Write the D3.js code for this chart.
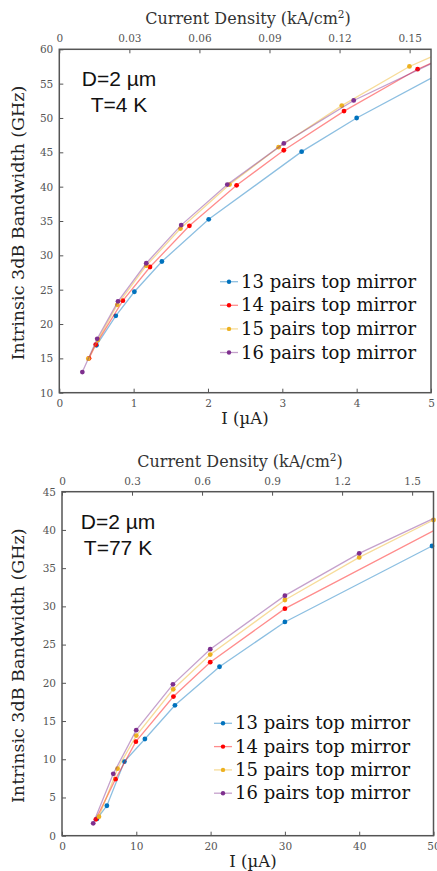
<!DOCTYPE html>
<html><head><meta charset="utf-8">
<script src="https://cdn.jsdelivr.net/npm/d3@7"></script>
<style>
html,body{margin:0;padding:0;background:#fff;}
svg{display:block;}
</style></head>
<body>
<svg id="c" width="437" height="871"></svg>
<script>
// ---------- DATA ----------
const seriesNames = ["13 pairs top mirror","14 pairs top mirror","15 pairs top mirror","16 pairs top mirror"];
const seriesColors = ["#0072BD","#FF0000","#EDB120","#7E2F8E"];

// Top panel: T = 4 K  (I in µA, bandwidth in GHz)
const top13I = [0.50,0.76,1.01,1.38,2.01,3.26,4.00,5.30];
const top13G = [16.9,21.2,24.7,29.1,35.25,45.1,50.0,57.5];
const top14I = [0.40,0.49,0.855,1.22,1.75,2.385,3.02,3.83,4.82,5.30];
const top14G = [15.0,17.0,23.4,28.3,34.3,40.2,45.3,51.0,57.1,59.4];
const top15I = [0.39,0.52,0.78,1.17,1.63,2.29,2.95,3.80,4.71,5.30];
const top15G = [14.95,17.7,22.8,28.5,33.9,40.3,45.75,51.8,57.5,60.3];
const top16I = [0.31,0.51,0.79,1.17,1.64,2.26,3.02,3.96,5.30];
const top16G = [13.0,17.85,23.3,28.85,34.4,40.3,46.3,52.55,59.45];

// Bottom panel: T = 77 K
const bot13I = [4.7,6.04,8.4,11.16,15.2,21.2,30.0,49.8];
const bot13G = [2.2,3.92,9.7,12.65,17.06,22.1,27.96,37.9];
const bot14I = [4.56,7.2,9.94,15.0,19.95,30.0,52.0];
const bot14G = [2.14,7.4,12.3,18.2,22.7,29.7,40.9];
const bot15I = [4.97,7.48,10.0,14.97,19.95,30.0,40.0,50.0];
const bot15G = [2.49,8.77,13.1,19.15,23.7,30.83,36.4,41.3];
const bot16I = [4.2,6.9,9.99,14.93,19.95,30.0,40.0,52.0];
const bot16G = [1.62,8.1,13.8,19.8,24.4,31.4,36.94,42.4];

// Tick labels
const topXTicks = [0,1,2,3,4,5];
const topYTicks = [10,15,20,25,30,35,40,45,50,55,60];
const topJTicks = [0,0.03,0.06,0.09,0.12,0.15];
const botXTicks = [0,10,20,30,40,50];
const botYTicks = [0,5,10,15,20,25,30,35,40,45];
const botJTicks = [0,0.3,0.6,0.9,1.2,1.5];

// current density conversion for D = 2 µm : J[kA/cm^2] = I[µA]*1e-6 / (pi*(1e-4)^2) / 1e3
const jPerI = 1e-6/(Math.PI*1e-8)/1e3;

const svg = d3.select("#c");
const serif = "'DejaVu Serif', serif";
const sans = "'Liberation Sans', Arial, sans-serif";
const tickCol = "#555";
const axisCol = "#555";

function panel(cfg, idx){
  const g = svg.append("g");
  const x = d3.scaleLinear().domain(cfg.xDom).range([cfg.L, cfg.R]);
  const y = d3.scaleLinear().domain(cfg.yDom).range([cfg.B, cfg.T]);
  const xj = d3.scaleLinear().domain([0, cfg.xDom[1]*jPerI]).range([cfg.L, cfg.R]);

  const clipId = "clip"+idx;
  svg.append("clipPath").attr("id", clipId).append("rect")
    .attr("x", cfg.L).attr("y", cfg.T).attr("width", cfg.R-cfg.L).attr("height", cfg.B-cfg.T);

  // axes
  const bx = d3.axisBottom(x).tickValues(cfg.xTicks).tickSizeInner(-4).tickSizeOuter(0).tickPadding(7).tickFormat(d3.format("d"));
  const ly = d3.axisLeft(y).tickValues(cfg.yTicks).tickSizeInner(-4).tickSizeOuter(0).tickPadding(6).tickFormat(d3.format("d"));
  const tx = d3.axisTop(xj).tickValues(cfg.jTicks).tickSizeInner(-4).tickSizeOuter(0).tickPadding(7).tickFormat(d => d===0 ? "0" : d3.format(cfg.jFmt)(d));

  const styleAxis = sel => {
    sel.select(".domain").remove();
    sel.selectAll(".tick line").attr("stroke", axisCol).attr("stroke-width",1);
    sel.selectAll(".tick text").attr("fill", tickCol).style("font-family", serif).style("font-size","10.5px");
  };
  g.append("g").attr("transform",`translate(0,${cfg.B})`).call(bx).call(styleAxis);
  g.append("g").attr("transform",`translate(${cfg.L},0)`).call(ly).call(styleAxis);
  g.append("g").attr("transform",`translate(0,${cfg.T})`).call(tx).call(styleAxis);

  // series
  const line = d3.line().x(d=>x(d[0])).y(d=>y(d[1]));
  cfg.series.forEach((s,i)=>{
    const pts = s.I.map((v,k)=>[v, s.G[k]]);
    g.append("path").datum(pts).attr("d", line).attr("fill","none")
      .attr("stroke", seriesColors[i]).attr("stroke-opacity",0.45).attr("stroke-width",1.3)
      .attr("clip-path", `url(#${clipId})`);
    g.selectAll(null).data(pts.filter(d=>d[0]<=cfg.xDom[1])).enter().append("circle")
      .attr("cx", d=>x(d[0])).attr("cy", d=>y(d[1])).attr("r",2.4).attr("fill", seriesColors[i]);
  });

  // box
  g.append("rect").attr("x",cfg.L).attr("y",cfg.T).attr("width",cfg.R-cfg.L).attr("height",cfg.B-cfg.T)
    .attr("fill","none").attr("stroke",axisCol).attr("stroke-width",1.5);

  // labels
  const jt = g.append("text").attr("x", cfg.jLabelX).attr("y", cfg.T-25).attr("text-anchor","middle")
    .style("font-family", serif).style("font-size","16px").attr("fill","#333");
  jt.append("tspan").text("Current Density (kA/cm");
  jt.append("tspan").text("2").attr("dy",-6).style("font-size","10.5px");
  jt.append("tspan").text(")").attr("dy",6);

  g.append("text").attr("x", cfg.iLabelX).attr("y", cfg.B+31).attr("text-anchor","middle")
    .style("font-family", serif).style("font-size","16.5px").attr("fill","#222").text("I (µA)");

  g.append("text").attr("transform",`translate(24,${(cfg.T+cfg.B)/2+2}) rotate(-90)`).attr("text-anchor","middle")
    .style("font-family", serif).style("font-size","17.5px").attr("fill","#222").text("Intrinsic 3dB Bandwidth (GHz)");

  // annotation
  g.append("text").attr("x", cfg.annX).attr("y", cfg.T+37).attr("text-anchor","middle")
    .style("font-family", sans).style("font-size","21px").attr("fill","#111").text("D=2 µm");
  g.append("text").attr("x", cfg.annX).attr("y", cfg.T+63).attr("text-anchor","middle")
    .style("font-family", sans).style("font-size","21px").attr("fill","#111").text(cfg.tLabel);

  // legend
  seriesNames.forEach((n,i)=>{
    const yy = cfg.legY + i*cfg.legDy;
    g.append("line").attr("x1",cfg.legX).attr("x2",cfg.legX+18).attr("y1",yy).attr("y2",yy)
      .attr("stroke",seriesColors[i]).attr("stroke-opacity",0.45).attr("stroke-width",1.3);
    g.append("circle").attr("cx",cfg.legX+9).attr("cy",yy).attr("r",2.2).attr("fill",seriesColors[i]);
    g.append("text").attr("x",cfg.legX+21).attr("y",yy+6).style("font-family",serif).style("font-size","18px")
      .attr("fill","#111").text(n);
  });
}

panel({L:59.3,R:431,T:49.3,B:392.7,xDom:[0,5],yDom:[10,60],xTicks:topXTicks,yTicks:topYTicks,jTicks:topJTicks,jFmt:".2f",
  jLabelX:248,iLabelX:245,annX:119,tLabel:"T=4 K",legX:220,legY:281.7,legDy:23.6,
  series:[{I:top13I,G:top13G},{I:top14I,G:top14G},{I:top15I,G:top15G},{I:top16I,G:top16G}]},0);

panel({L:62,R:433.5,T:491.7,B:835.7,xDom:[0,50],yDom:[0,45],xTicks:botXTicks,yTicks:botYTicks,jTicks:botJTicks,jFmt:".1f",
  jLabelX:240,iLabelX:253,annX:118,tLabel:"T=77 K",legX:214,legY:723.3,legDy:23.3,
  series:[{I:bot13I,G:bot13G},{I:bot14I,G:bot14G},{I:bot15I,G:bot15G},{I:bot16I,G:bot16G}]},1);
</script>
</body></html>
